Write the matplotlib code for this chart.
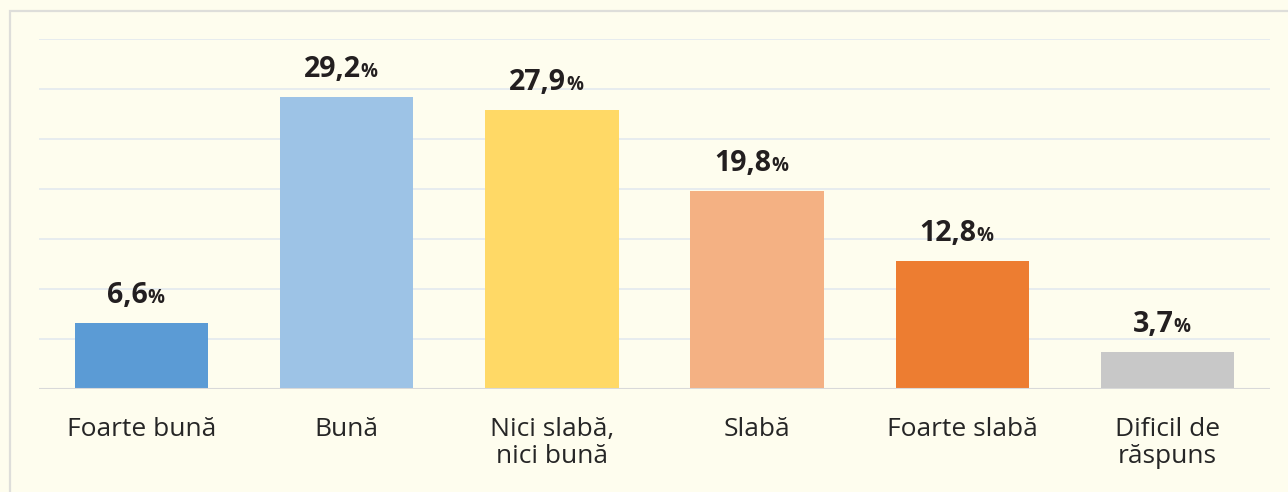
import matplotlib
matplotlib.use("Agg")
import matplotlib.pyplot as plt
from matplotlib import font_manager as fm
from matplotlib.offsetbox import TextArea, HPacker, AnnotationBbox
from matplotlib.patches import Rectangle

categories = ["Foarte bună", "Bună", "Nici slabă,\nnici bună", "Slabă", "Foarte slabă", "Dificil de\nrăspuns"]
values = [6.6, 29.2, 27.9, 19.8, 12.8, 3.7]
value_labels = ["6,6", "29,2", "27,9", "19,8", "12,8", "3,7"]
colors = ["#5B9BD5", "#9DC3E6", "#FFD966", "#F4B183", "#ED7D31", "#C8C8C8"]
yticks = [0, 5, 10, 15, 20, 25, 30, 35]

plt.rcParams['font.family'] = ['Open Sans', 'DejaVu Sans']
BG = "#FEFDEE"

# find a normal-width bold Open Sans
bold_file = None
for f in fm.fontManager.ttflist:
    if f.name == 'Open Sans' and f.style == 'normal' and str(f.weight) in ('700', 'bold') \
            and 'ondensed' not in f.fname and 'Semi' not in f.fname and f.stretch == 'normal':
        bold_file = f.fname
        break

def bold_props(size):
    if bold_file:
        return dict(fontproperties=fm.FontProperties(fname=bold_file, size=size), color="#231F20")
    return dict(fontsize=size, fontweight='bold', family=['DejaVu Sans'], color="#231F20")

fig = plt.figure(figsize=(12.88, 4.92), dpi=100, facecolor=BG)
ax = fig.add_axes([39/1288, 1 - 389/492, (1270 - 39)/1288, 350/492])
ax.set_facecolor(BG)

# outer frame
fig.patches.append(Rectangle((9.5/1288, -0.1), 1.2, 1 - 10.5/492 + 0.1, transform=fig.transFigure,
                             fill=False, edgecolor="#DEDEDA", linewidth=1.6, zorder=0))

x = list(range(len(categories)))
ax.bar(x, values, width=0.65, color=colors, zorder=3)
ax.set_xlim(-0.5, len(categories) - 0.5)
ax.set_ylim(0, 35)
ax.set_yticks(yticks)
ax.yaxis.grid(True, color="#E3E9EE", linewidth=1.2, zorder=0)
ax.axhline(0, color="#D9D9D9", linewidth=1.5, zorder=4)
ax.tick_params(axis='y', left=False, labelleft=False)
ax.tick_params(axis='x', bottom=False, pad=17, labelsize=19, labelcolor="#262626")
ax.set_xticks(x)
ax.set_xticklabels(categories, linespacing=1.1, va='top')
for s in ax.spines.values():
    s.set_visible(False)

for xi, v, lab in zip(x, values, value_labels):
    t1 = TextArea(lab, textprops=bold_props(20.5))
    t2 = TextArea("%", textprops=bold_props(13.5))
    box = HPacker(children=[t1, t2], align='baseline', pad=0, sep=0)
    ab = AnnotationBbox(box, (xi, v), xybox=(-4.3, 9.5), xycoords='data', boxcoords='offset points',
                        box_alignment=(0.5, 0), frameon=False, pad=0, annotation_clip=False)
    ax.add_artist(ab)

fig.savefig("out.png", dpi=100, facecolor=BG)
